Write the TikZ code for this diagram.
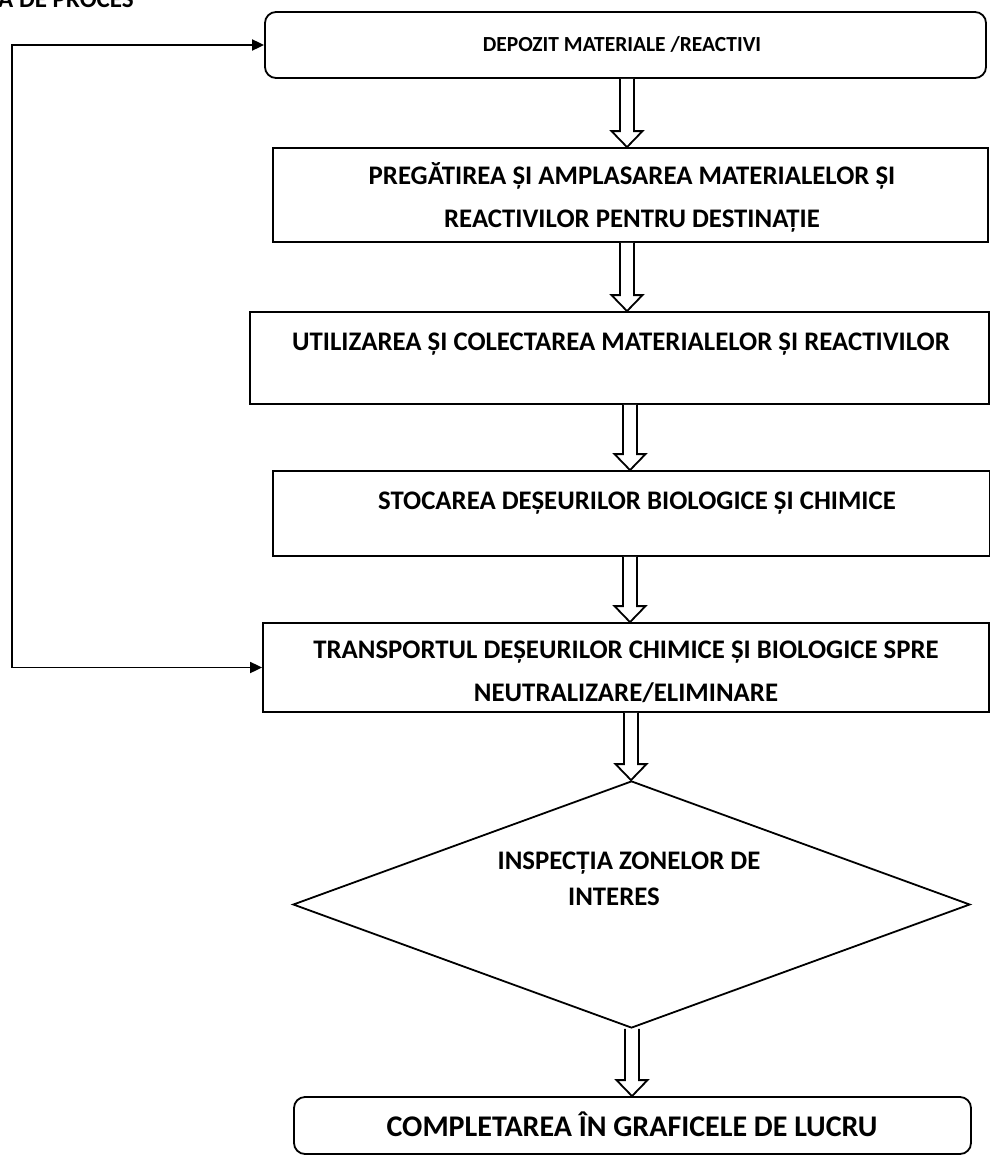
\documentclass[tikz,border=0pt]{standalone}
\usepackage{fontspec}
\setmainfont{Carlito}
\usetikzlibrary{calc,shapes.geometric,arrows.meta}
\newcommand\blkarrow[3]{%
  \draw[blkarr] let \p1=(#2), \p2=(#3) in
    ({#1-7},\y1) -- ({#1-7},\y2+16pt) -- ({#1-15.5},\y2+16pt) -- (#1,\y2)
    -- ({#1+15.5},\y2+16pt) -- ({#1+7},\y2+16pt) -- ({#1+7},\y1);}
\begin{document}
\begin{tikzpicture}[x=1pt,y=-1pt,
  box/.style={draw,line width=1.8pt,inner sep=0pt},
  rbox/.style={box,rounded corners=11pt},
  txt/.style={font=\bfseries\fontsize{26.8}{43}\selectfont,anchor=base,inner sep=0pt,align=center},
  blkarr/.style={line width=1.8pt,fill=white,line join=miter},
  loop/.style={line width=1.8pt,{Triangle[length=12pt,width=11pt]}-{Triangle[length=12pt,width=11pt]}}]
\useasboundingbox (0,0) rectangle (990,1156);
\node[txt,anchor=base west,font=\bfseries\fontsize{25}{30}\selectfont] (title) at (-2,8) {A DE PROCES};
% boxes
\node[rbox,minimum width=721pt,minimum height=66pt] (b1) at (625.5,45) {};
\node[box,minimum width=715pt,minimum height=94pt] (b2) at (630.5,195) {};
\node[box,minimum width=739pt,minimum height=92pt] (b3) at (619.5,358) {};
\node[box,minimum width=717pt,minimum height=85pt] (b4) at (631.5,513.5) {};
\node[box,minimum width=726pt,minimum height=89pt] (b5) at (626,667.5) {};
\node[draw,line width=1.8pt,shape=diamond,inner sep=0pt,minimum width=677pt,minimum height=247pt] (d) at (631.5,904.5) {};
\node[rbox,minimum width=677pt,minimum height=57pt] (b6) at (632.5,1125.5) {};
% texts
\node[txt,font=\bfseries\fontsize{21.5}{30}\selectfont] (t1) at (622,52) {DEPOZIT MATERIALE /REACTIVI};
\node[txt] (t2) at (632,227) {PREGĂTIREA ȘI AMPLASAREA MATERIALELOR ȘI\\REACTIVILOR PENTRU DESTINAȚIE};
\node[txt] (t3) at (621,350) {UTILIZAREA ȘI COLECTAREA MATERIALELOR ȘI REACTIVILOR};
\node[txt] (t4) at (637,509) {STOCAREA DEȘEURILOR BIOLOGICE ȘI CHIMICE};
\node[txt] (t5) at (626,701) {TRANSPORTUL DEȘEURILOR CHIMICE ȘI BIOLOGICE SPRE\\NEUTRALIZARE/ELIMINARE};
\node[txt] (td1) at (629,869) {INSPECȚIA ZONELOR DE};
\node[txt] (td2) at (614,905) {INTERES};
\node[txt,font=\bfseries\fontsize{30}{36}\selectfont] (t6) at (632,1136) {COMPLETAREA ÎN GRAFICELE DE LUCRU};
% block arrows
\blkarrow{627}{b1.south}{b2.north}
\blkarrow{627}{b2.south}{b3.north}
\blkarrow{630}{b3.south}{b4.north}
\blkarrow{630}{b4.south}{b5.north}
\blkarrow{631}{b5.south}{d.north}
\blkarrow{632}{d.south}{b6.north}
% feedback loop
\coordinate (c1) at (12,667.5);
\coordinate (c2) at (12,45);
\draw[loop] (b5.west) -- (c1) -- (c2) -- (b1.west);
\end{tikzpicture}
\end{document}
